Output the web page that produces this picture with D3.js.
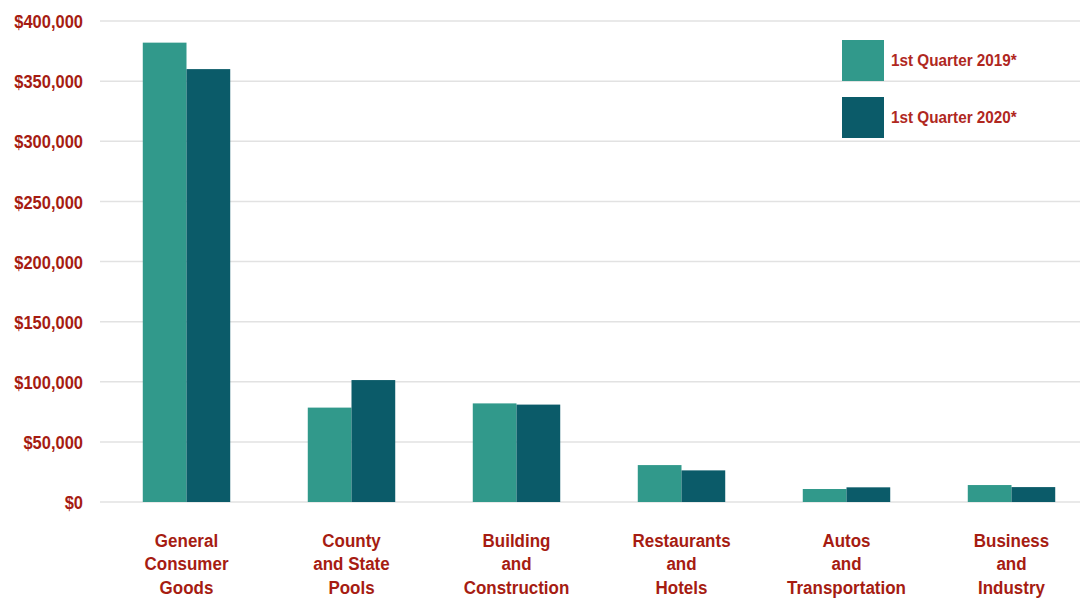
<!DOCTYPE html>
<html>
<head>
<meta charset="utf-8">
<script src="https://cdn.jsdelivr.net/npm/d3@7"></script>
<style>
  body { margin: 0; background: #fff; }
  text { font-family: "Liberation Sans", Arial, sans-serif; font-weight: bold; }
</style>
</head>
<body>
<div id="graph"></div>
<script>
const categories = [
    ["General", "Consumer", "Goods"],
    ["County", "and State", "Pools"],
    ["Building", "and", "Construction"],
    ["Restaurants", "and", "Hotels"],
    ["Autos", "and", "Transportation"],
    ["Business", "and", "Industry"]
]
const seriesNames = ["1st Quarter 2019*", "1st Quarter 2020*"]
const q1_2019 = [382000, 78500, 82000, 30700, 10800, 14100]
const q1_2020 = [360000, 101400, 81000, 26300, 12200, 12400]
const yTicks = [0, 50000, 100000, 150000, 200000, 250000, 300000, 350000, 400000]

const width = 1080
const height = 598
const colors = ["#31998b", "#0b5b69"]
const red = "#a61c12"
const stretch = 1.12 // glyphs in the original are a bit taller than wide

const svg = d3.select("#graph").append("svg")
    .attr("width", width)
    .attr("height", height)

const x = d3.scaleBand()
    .domain(d3.range(categories.length))
    .range([104, 1094])
    .paddingInner(0.47)
    .paddingOuter(0.235)

const x1 = d3.scaleBand()
    .domain([0, 1])
    .range([0, x.bandwidth()])

const y = d3.scaleLinear()
    .domain([0, 400000])
    .range([502, 21])

// Gridlines
svg.append("g")
    .selectAll()
    .data(yTicks)
    .join("line")
    .attr("x1", 100)
    .attr("x2", width)
    .attr("y1", d => y(d))
    .attr("y2", d => y(d))
    .attr("stroke", "#e2e2e2")
    .attr("stroke-width", 1.5)

// Y axis labels
const yAxis = svg.append("g")
    .attr("transform", "translate(83,0)")
    .call(d3.axisLeft(y).tickValues(yTicks).tickSize(0).tickPadding(0)
        .tickFormat(d => "$" + d3.format(",")(d)))
yAxis.select(".domain").remove()
yAxis.selectAll("text")
    .attr("fill", red)
    .attr("font-size", 16.5)
    .attr("font-family", "Liberation Sans, Arial, sans-serif")
    .attr("font-weight", "bold")
    .attr("dy", "0.36em")
    .attr("transform", `scale(1,${stretch})`)

// Bars
const groups = svg.append("g")
    .selectAll()
    .data(categories.map((c, i) => [q1_2019[i], q1_2020[i]]))
    .join("g")
    .attr("transform", (d, i) => `translate(${x(i)},0)`)

groups.selectAll("rect")
    .data(d => d)
    .join("rect")
    .attr("x", (d, j) => x1(j))
    .attr("width", x1.bandwidth())
    .attr("y", d => y(d))
    .attr("height", d => y(0) - y(d))
    .attr("fill", (d, j) => colors[j])

// X labels
const labels = svg.append("g")
    .selectAll()
    .data(categories)
    .join("text")
    .attr("text-anchor", "middle")
    .attr("font-size", 17)
    .attr("fill", red)
    .attr("transform", (d, i) => `translate(${x(i) + x.bandwidth() / 2},547) scale(1,${stretch})`)

labels.selectAll("tspan")
    .data(d => d)
    .join("tspan")
    .attr("x", 0)
    .attr("y", (d, j) => j * 23.5 / stretch)
    .text(d => d)

// Legend
const legend = svg.append("g")
    .selectAll()
    .data(seriesNames)
    .join("g")
    .attr("transform", (d, i) => `translate(842,${40 + i * 57})`)

legend.append("rect")
    .attr("width", 42)
    .attr("height", 41)
    .attr("fill", (d, i) => colors[i])

legend.append("text")
    .attr("transform", `translate(49,26) scale(1,${stretch})`)
    .attr("font-size", 15.3)
    .attr("fill", "#b0281f")
    .text(d => d)
</script>
</body>
</html>
